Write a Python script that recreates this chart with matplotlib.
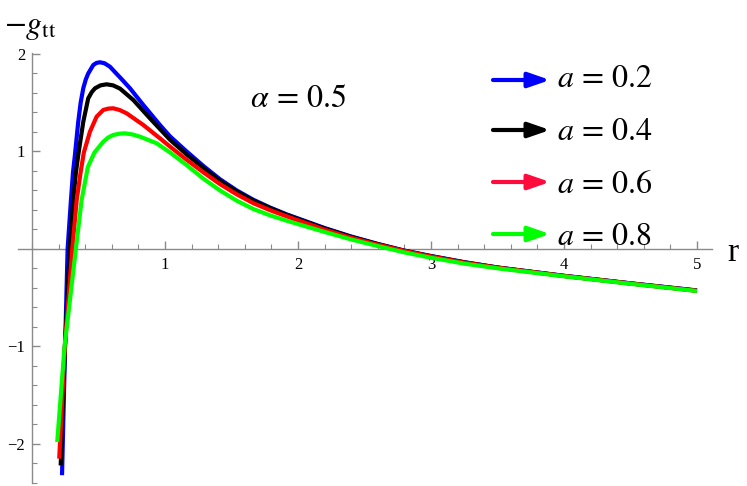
import matplotlib
matplotlib.use("Agg")
import matplotlib.pyplot as plt
from matplotlib.ticker import MultipleLocator, FixedLocator

plt.rcParams['mathtext.fontset'] = 'stix'
plt.rcParams['font.family'] = ['Liberation Serif', 'DejaVu Serif']

# ---- data ----
labels = ["a = 0.2", "a = 0.4", "a = 0.6", "a = 0.8"]
line_colors = ["#0000FF", "#000000", "#FF0000", "#00FF00"]
arrow_colors = ["#0000FF", "#000000", "#FF0A3C", "#00FF00"]

r_a02 = [0.226, 0.249, 0.268, 0.293, 0.308, 0.323, 0.348, 0.366, 0.386, 0.405, 0.423, 0.461,
         0.485, 0.511, 0.545, 0.586, 0.62, 0.662, 0.737, 0.837, 0.962, 1.038, 1.163, 1.29,
         1.414, 1.54, 1.664, 1.79, 1.915, 2.2, 2.4, 2.6, 2.8, 3.0, 3.25, 3.5, 4.0, 4.5, 5.0]
g_a02 = [-2.32, -1.0, 0.0, 0.50, 0.78, 0.964, 1.306, 1.50, 1.65, 1.74, 1.80, 1.887,
         1.908, 1.915, 1.905, 1.87, 1.82, 1.76, 1.648, 1.477, 1.272, 1.155, 1.0, 0.85,
         0.715, 0.60, 0.505, 0.425, 0.355, 0.215, 0.128, 0.052, -0.017, -0.072, -0.135, -0.19, -0.275, -0.352, -0.425]

r_a04 = [0.216, 0.248, 0.284, 0.31, 0.33, 0.348, 0.386, 0.423, 0.45, 0.474, 0.515, 0.561,
         0.61, 0.662, 0.762, 0.887, 1.038, 1.163, 1.29, 1.414, 1.54, 1.664, 1.79, 1.915,
         2.2, 2.4, 2.6, 2.8, 3.0, 3.25, 3.5, 4.0, 4.5, 5.0]
g_a04 = [-2.22, -1.0, 0.0, 0.50, 0.78, 0.964, 1.306, 1.545, 1.61, 1.648, 1.678, 1.689,
         1.678, 1.645, 1.528, 1.34, 1.12, 0.97, 0.83, 0.70, 0.59, 0.497, 0.42, 0.35,
         0.21, 0.124, 0.05, -0.018, -0.074, -0.137, -0.19, -0.276, -0.353, -0.427]

r_a06 = [0.205, 0.247, 0.303, 0.336, 0.365, 0.39, 0.436, 0.486, 0.536, 0.575, 0.611,
         0.66, 0.712, 0.837, 0.962, 1.038, 1.163, 1.29, 1.414, 1.54, 1.664, 1.79, 1.915,
         2.2, 2.4, 2.6, 2.8, 3.0, 3.25, 3.5, 4.0, 4.5, 5.0]
g_a06 = [-2.15, -1.0, 0.0, 0.50, 0.78, 0.99, 1.203, 1.357, 1.426, 1.44, 1.443,
         1.425, 1.391, 1.272, 1.135, 1.05, 0.915, 0.785, 0.665, 0.56, 0.47, 0.398, 0.335,
         0.198, 0.115, 0.044, -0.02, -0.077, -0.14, -0.192, -0.277, -0.354, -0.429]

r_a08 = [0.19, 0.245, 0.33, 0.373, 0.42, 0.47, 0.536, 0.575, 0.611, 0.655, 0.699,
         0.755, 0.812, 0.937, 1.038, 1.163, 1.29, 1.414, 1.54, 1.664, 1.79, 1.915,
         2.2, 2.4, 2.6, 2.8, 3.0, 3.25, 3.5, 4.0, 4.5, 5.0]
g_a08 = [-1.98, -1.0, 0.0, 0.50, 0.84, 0.99, 1.10, 1.145, 1.169, 1.182, 1.186,
         1.175, 1.152, 1.084, 0.99, 0.86, 0.72, 0.60, 0.495, 0.41, 0.345, 0.29,
         0.175, 0.098, 0.03, -0.035, -0.09, -0.15, -0.198, -0.28, -0.357, -0.431]

series_r = [r_a02, r_a04, r_a06, r_a08]
series_g = [g_a02, g_a04, g_a06, g_a08]

x_ticks = [1, 2, 3, 4, 5]
y_ticks = [-2, -1, 1, 2]
y_ticklabels = ["\u22122", "\u22121", "1", "2"]

# ---- figure ----
W, H = 747, 486
fig = plt.figure(figsize=(W / 100, H / 100), dpi=100)
left_px, right_px, top_px, bottom_px = 18, 712, 53, 483
ax = fig.add_axes([left_px / W, 1 - bottom_px / H, (right_px - left_px) / W, (bottom_px - top_px) / H])
ax.set_xlim(-0.105, 5.113)
ax.set_ylim(-2.40, 2.01)

for r, g, c in zip(series_r, series_g, line_colors):
    ax.plot(r, g, color=c, lw=3.0, solid_capstyle='butt', solid_joinstyle='round', clip_on=False)

axis_col = "#8a8a8a"
for s in ['top', 'right']:
    ax.spines[s].set_visible(False)
ax.spines['left'].set_position(('data', 0))
ax.spines['bottom'].set_position(('data', 0))
for s in ['left', 'bottom']:
    ax.spines[s].set_color(axis_col)
    ax.spines[s].set_linewidth(1.0)
    ax.spines[s].set_zorder(0)

ax.xaxis.set_major_locator(FixedLocator(x_ticks))
ax.xaxis.set_minor_locator(MultipleLocator(0.2))
ax.yaxis.set_major_locator(FixedLocator(y_ticks))
ax.yaxis.set_minor_locator(MultipleLocator(0.2))
ax.set_xticklabels([str(v) for v in x_ticks])
ax.set_yticklabels(y_ticklabels)
ax.tick_params(which='major', direction='in', length=6, width=1.0, color=axis_col,
               labelsize=12, labelcolor='black')
ax.tick_params(which='minor', direction='in', length=3.5, width=0.8, color=axis_col)
ax.tick_params(axis='x', pad=6)
ax.tick_params(axis='y', pad=5)
ax.patch.set_alpha(0)

# axis labels
fig.text(4 / W, 1 - 33 / H, r'$-g_{\mathrm{tt}}$', fontsize=23, ha='left', va='baseline')
fig.text(727 / W, 1 - 261 / H, 'r', fontsize=24, ha='left', va='baseline')

# alpha annotation
fig.text(250 / W, 1 - 107 / H, r'$\alpha\,=\,0.5$', fontsize=23, ha='left', va='baseline')

# legend arrows and labels
arrow_y = [80, 130, 182, 234]
text_base = [87, 140, 193, 245]
for lab, c, ay, tb in zip(labels, arrow_colors, arrow_y, text_base):
    ax.annotate('', xy=(550, H - ay), xytext=(493, H - ay),
                xycoords='figure pixels', textcoords='figure pixels',
                arrowprops=dict(arrowstyle='-|>,head_length=1.3,head_width=0.45',
                                color=c, lw=3, shrinkA=0, shrinkB=0))
    fig.text(557 / W, 1 - tb / H, r'$' + lab.replace(' = ', r'\,=\,') + '$',
             fontsize=23, ha='left', va='baseline')

fig.savefig('out.png', dpi=100)
